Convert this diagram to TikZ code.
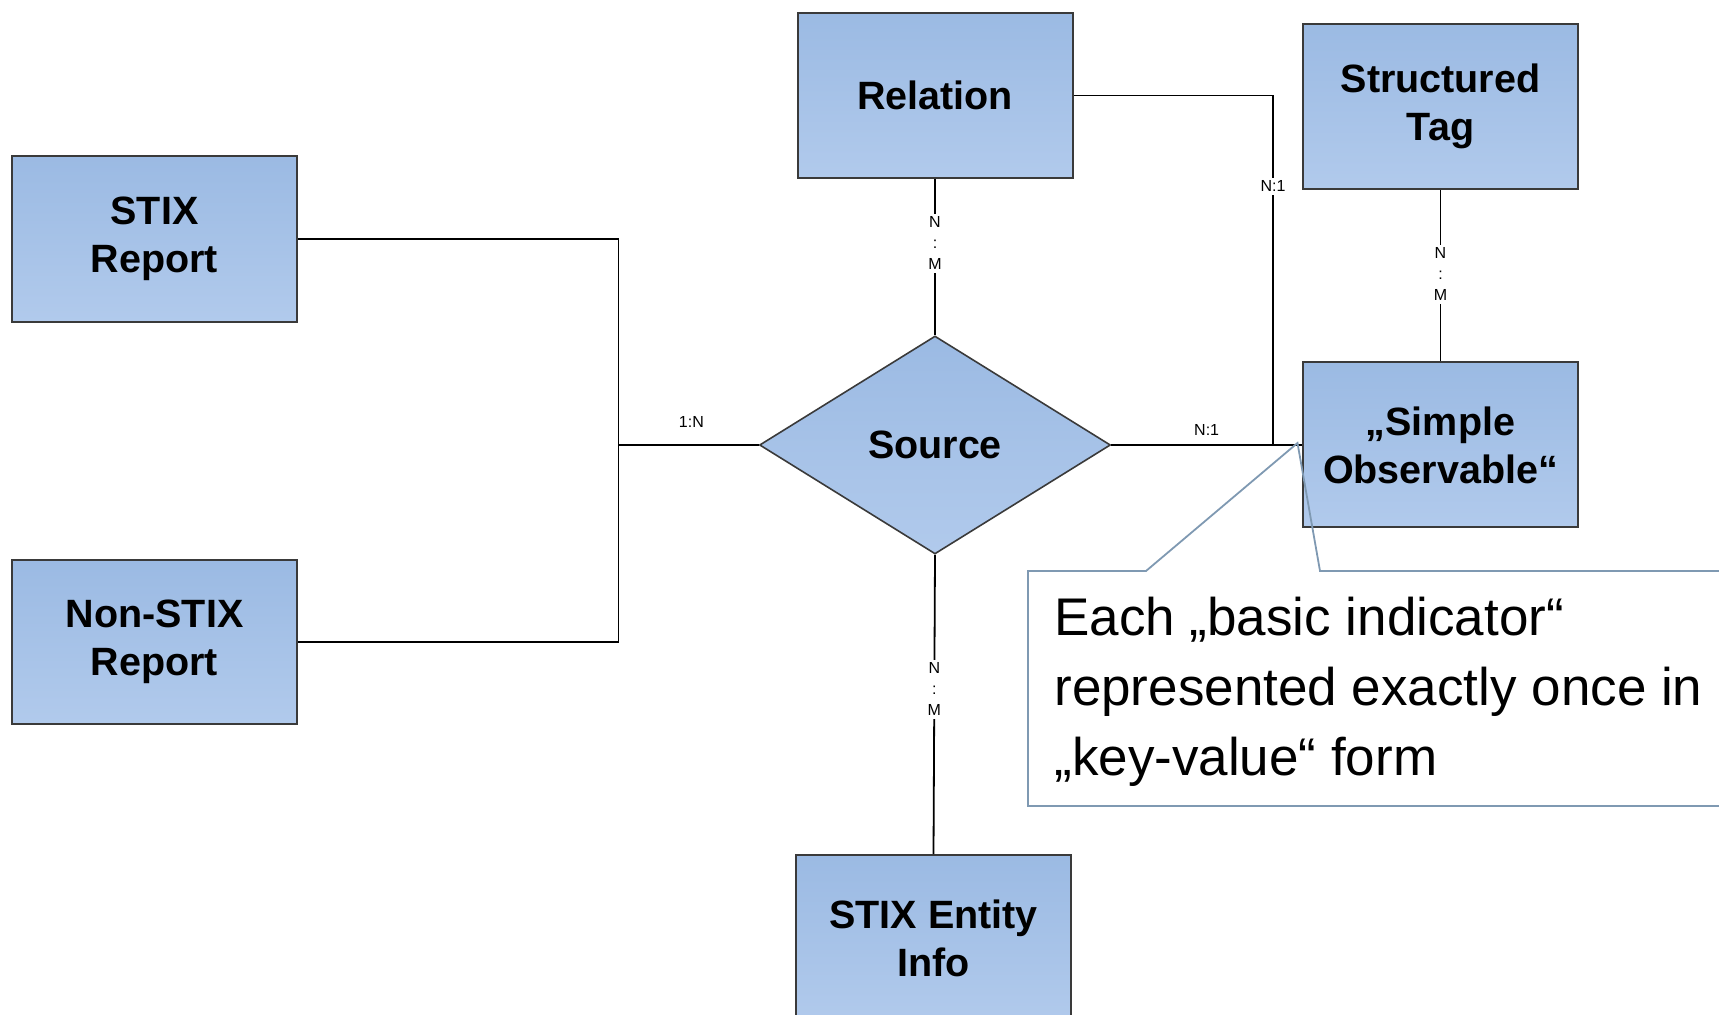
\documentclass[tikz,border=0pt]{standalone}
\usepackage{fontspec}
\setmainfont{Liberation Sans}
\usetikzlibrary{shapes.geometric}
\definecolor{boxtop}{HTML}{9BBAE3}
\definecolor{boxbot}{HTML}{B1CAEC}
\definecolor{boxline}{HTML}{3A3A3A}
\definecolor{noteline}{HTML}{7F99B2}
\begin{document}
\begin{tikzpicture}[x=0.5pt,y=-0.5pt,
  entity/.style={rectangle, draw=boxline, line width=1pt,
    top color=boxtop, bottom color=boxbot,
    font=\fontsize{19.75}{24}\selectfont\bfseries, align=center,
    inner sep=0pt, minimum width=137.5pt, minimum height=82.5pt},
  relship/.style={diamond, draw=boxline, line width=0.8pt,
    top color=boxtop, bottom color=boxbot,
    font=\fontsize{19.75}{24}\selectfont\bfseries,
    inner sep=0pt, minimum width=175.5pt, minimum height=109pt},
  link/.style={draw=black, line width=0.9pt},
  card/.style={font=\fontsize{8}{10.5}\selectfont, inner sep=1pt, align=center},
  cardgap/.style={card, fill=white, inner sep=1.5pt},
  note/.style={draw=noteline, line width=0.9pt, line join=miter},
]
\useasboundingbox (0,0) rectangle (1719,1015);
\clip (0,0) rectangle (1719,1015);

% entities
\node[entity, minimum width=142.5pt, minimum height=83pt] (stixrep) at (154.5,239) {STIX\\Report};
\node[entity, minimum width=142.5pt, minimum height=82pt] (nonstix) at (154.5,642) {Non-STIX\\Report};
\node[entity] (relation) at (935,95.5) {Relation};
\node[entity] (structag) at (1440.5,106.5) {Structured\\Tag};
\node[entity] (simpleobs) at (1440.5,445) {„Simple\\Observable“};
\node[entity, minimum height=83pt] (entityinfo) at (933.5,938) {STIX Entity\\Info};

% relationship
\node[relship] (source) at (935,445) {Source};

% junctions
\coordinate (jn) at (618.5,445);
\coordinate (jr) at (1273,445);

% connectors
\draw[link] (stixrep.east) -| (jn);
\draw[link] (nonstix.east) -| (jn);
\draw[link] (jn) -- node[pos=0.52, card, yshift=11.5pt] {1:N} (source.west);
\draw[link] (relation.south) -- node[pos=0.41, cardgap] {N\\:\\M} (source.north);
\draw[link] (relation.east) -| node[pos=0.63, cardgap] {N:1} (jr);
\draw[link] (source.east) -- node[pos=0.5, card, yshift=7.5pt] {N:1} (simpleobs.west);
\draw[link] (structag.south) -- node[pos=0.49, cardgap] {N\\:\\M} (simpleobs.north);
\draw[link] (source.south) -- node[pos=0.45, cardgap] {N\\:\\M} (entityinfo.north);

% callout
\coordinate (tip) at (1297.5,443);
\draw[note] (1028,571) -- (1146,571) -- (tip) -- (1320,571) -- (1740,571)
  -- (1740,806) -- (1028,806) -- cycle;
% the base anchor of a multi-line node sits on its last line
\node[anchor=base west, align=left, inner sep=0pt,
  font=\fontsize{26.5}{35}\selectfont] (notetext) at (1054,775)
  {Each „basic indicator“\\represented exactly once in\\„key-value“ form};
\end{tikzpicture}
\end{document}
